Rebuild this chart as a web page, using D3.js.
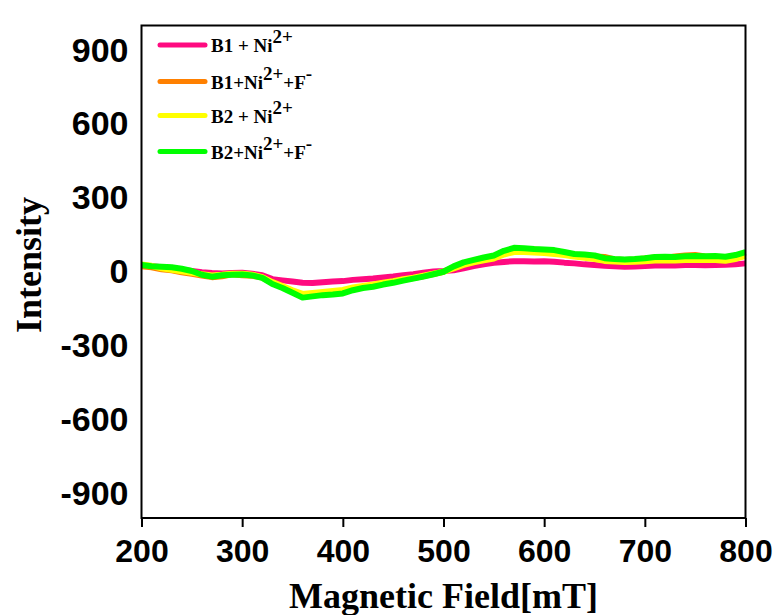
<!DOCTYPE html>
<html>
<head>
<meta charset="utf-8">
<script src="https://cdn.jsdelivr.net/npm/d3@7"></script>
<style>
  body { margin: 0; background: #fff; }
</style>
</head>
<body>
<svg width="778" height="615"></svg>
<script>
// EPR spectra, field in mT, step 10
var fieldStart = 200, fieldStep = 10;

var b1Ni = [25, 22, 18, 15, 8, 3, -2, -5, -7, -5, -4, -8, -14, -30, -35, -40, -45, -46, -43, -40,
  -38, -33, -30, -27, -23, -19, -14, -10, -4, 1, 3, 6, 14, 23, 30, 36, 40, 43, 43, 42,
  43, 41, 37, 34, 30, 27, 24, 22, 20, 21, 23, 25, 26, 25, 27, 27, 26, 27, 28, 30, 34];

var b1NiF = [22, 18, 10, 6, -2, -8, -15, -22, -18, -10, -14, -16, -24, -46, -62, -80, -96, -92, -86, -84,
  -80, -70, -62, -56, -49, -41, -33, -26, -18, -9, 0, 18, 34, 44, 54, 62, 78, 88, 90, 90,
  86, 80, 76, 70, 65, 62, 60, 50, 48, 50, 54, 58, 56, 62, 66, 68, 62, 60, 58, 64, 76];

var b2Ni = [30, 24, 14, 8, 2, -4, -10, -15, -12, -8, -8, -12, -22, -42, -58, -75, -90, -86, -82, -78,
  -74, -64, -58, -52, -45, -38, -30, -24, -16, -8, 0, 14, 28, 38, 46, 54, 70, 80, 80, 78,
  76, 72, 68, 62, 57, 52, 44, 42, 40, 41, 43, 46, 47, 46, 48, 49, 48, 48, 45, 52, 64];

var b2NiF = [27, 22, 20, 18, 12, 3, -12, -20, -14, -12, -11, -15, -25, -50, -66, -85, -105, -100, -95, -92,
  -88, -75, -66, -61, -52, -45, -36, -28, -20, -10, 0, 22, 38, 48, 58, 66, 85, 97, 95, 92,
  90, 88, 80, 72, 70, 66, 55, 52, 50, 52, 55, 60, 61, 60, 63, 64, 63, 64, 61, 68, 80];

var seriesValues = [b1Ni, b1NiF, b2Ni, b2NiF];
var seriesColors = ["#ff0a80", "#ff8000", "#ffff00", "#00ff00"];
// legend labels: base, superscript, tail, tail superscript
var legendLabels = [
  ["B1 + Ni", "2+", "", ""],
  ["B1+Ni", "2+", "+F", "-"],
  ["B2 + Ni", "2+", "", ""],
  ["B2+Ni", "2+", "+F", "-"]
];
var xTicks = [200, 300, 400, 500, 600, 700, 800];
var yTicks = [-900, -600, -300, 0, 300, 600, 900];

var svg = d3.select("svg"),
    margin = {left: 141.5, top: 25.5, right: 32.5, bottom: 97},
    width = +svg.attr("width") - margin.left - margin.right,
    height = +svg.attr("height") - margin.top - margin.bottom;

var x = d3.scaleLinear().domain([200, 800]).range([0, width]);
var y = d3.scaleLinear().domain([-1000, 1000]).range([height, 0]);

var g = svg.append("g").attr("transform", "translate(" + margin.left + "," + margin.top + ")");

var line = d3.line()
    .x(function(d, i) { return x(fieldStart + i * fieldStep); })
    .y(function(d) { return y(d); });

g.selectAll("path.series")
  .data(seriesValues)
  .enter().append("path")
    .attr("class", "series")
    .attr("fill", "none")
    .attr("stroke", function(d, i) { return seriesColors[i]; })
    .attr("stroke-width", 6)
    .attr("stroke-linejoin", "round")
    .attr("d", line);

// frame
g.append("rect")
  .attr("width", width).attr("height", height)
  .attr("fill", "none").attr("stroke", "#000").attr("stroke-width", 2);

// x axis
var xAxis = g.append("g")
  .attr("transform", "translate(0," + height + ")")
  .call(d3.axisBottom(x).tickValues(xTicks).tickSize(9).tickPadding(12));
xAxis.select(".domain").remove();
xAxis.selectAll("line").attr("stroke-width", 2);
xAxis.selectAll("text")
  .attr("font-family", "Liberation Sans, Arial, sans-serif")
  .attr("font-weight", "bold")
  .attr("font-size", 32)
  .attr("fill", "#000");

// y axis (labels only), plain hyphen for minus
var yAxis = g.append("g")
  .call(d3.axisLeft(y).tickValues(yTicks).tickSize(0).tickPadding(13)
    .tickFormat(function(d) { return String(d); }));
yAxis.select(".domain").remove();
yAxis.selectAll("text")
  .attr("font-family", "Liberation Sans, Arial, sans-serif")
  .attr("font-weight", "bold")
  .attr("font-size", 34)
  .attr("fill", "#000");

// axis titles
svg.append("text")
  .attr("x", margin.left + width / 2)
  .attr("y", 608)
  .attr("text-anchor", "middle")
  .attr("font-family", "Liberation Serif, Times New Roman, serif")
  .attr("font-weight", "bold")
  .attr("font-size", 36)
  .text("Magnetic Field[mT]");

svg.append("text")
  .attr("transform", "translate(41,265) rotate(-90)")
  .attr("text-anchor", "middle")
  .attr("font-family", "Liberation Serif, Times New Roman, serif")
  .attr("font-weight", "bold")
  .attr("font-size", 36)
  .text("Intensity");

// legend
var legendY = [45, 81.5, 115.5, 151.5];
var legend = svg.append("g")
  .attr("font-family", "Liberation Serif, Times New Roman, serif")
  .attr("font-weight", "bold")
  .attr("font-size", 19);

legendLabels.forEach(function(lab, i) {
  legend.append("line")
    .attr("x1", 160).attr("x2", 205)
    .attr("y1", legendY[i]).attr("y2", legendY[i])
    .attr("stroke", seriesColors[i]).attr("stroke-width", 5)
    .attr("stroke-linecap", "round");
  var t = legend.append("text").attr("x", 211).attr("y", legendY[i] + 7);
  t.append("tspan").text(lab[0]);
  t.append("tspan").attr("dy", -9).text(lab[1]);
  if (lab[2]) {
    t.append("tspan").attr("dy", 9).text(lab[2]);
    t.append("tspan").attr("dy", -9).text(lab[3]);
  }
});
</script>
</body>
</html>
